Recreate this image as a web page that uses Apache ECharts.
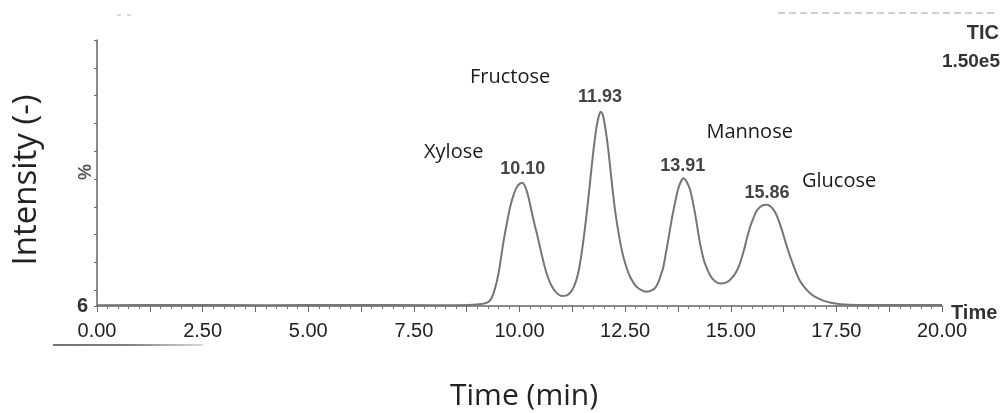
<!DOCTYPE html>
<html>
<head>
<meta charset="utf-8">
<script src="https://cdn.jsdelivr.net/npm/echarts@6/dist/echarts.min.js"></script>
<style>
html,body{margin:0;padding:0;background:#fff;}
#chart{width:1003px;height:413px;}
</style>
</head>
<body>
<div id="chart"></div>
<script>
// Retention time (min)
const times = [0, 2, 4, 6, 8, 8.8, 9.0, 9.18, 9.3, 9.4, 9.5, 9.62, 9.7, 9.78, 9.86,
  9.93, 10.0, 10.07, 10.14, 10.21, 10.33, 10.41, 10.49, 10.57, 10.64,
  10.72, 10.8, 10.9, 11.0, 11.1, 11.2, 11.28, 11.35, 11.41, 11.47,
  11.53, 11.59, 11.67, 11.75, 11.82, 11.87, 11.92, 11.97, 12.03, 12.10,
  12.17, 12.24, 12.30, 12.38, 12.46, 12.54, 12.62, 12.70, 12.77, 12.88,
  13.0, 13.1, 13.2, 13.28, 13.34, 13.40, 13.46, 13.52, 13.60, 13.68,
  13.75, 13.82, 13.88, 13.95, 14.04, 14.15, 14.27, 14.33, 14.39, 14.51,
  14.62, 14.75, 14.87, 14.98, 15.08, 15.18, 15.30, 15.38, 15.46, 15.54,
  15.61, 15.70, 15.78, 15.86, 15.95, 16.05, 16.13, 16.21, 16.30, 16.40,
  16.48, 16.56, 16.64, 16.75, 16.88, 17.0, 17.19, 17.4, 17.6, 17.8,
  18.2, 19.0, 20.0];
// Relative intensity (%)
const intensity = [0.3, 0.4, 0.3, 0.4, 0.3, 0.4, 0.6, 1.0, 2.0, 5.5, 12, 24, 31, 37.3, 41.8,
  44.5, 45.9, 46.2, 44.7, 41.1, 32.4, 27.3, 21.8, 16.4, 12.3,
  8.9, 6.5, 4.6, 3.8, 3.9, 5.0, 7.0, 10.0, 14.0, 19.8,
  26.8, 34.7, 46.6, 58.5, 67.0, 71.0, 73.0, 72.0, 67.0, 59.0,
  48.6, 38.7, 31.8, 24.3, 18.4, 14.1, 10.9, 8.7, 7.2, 6.0,
  5.4, 5.7, 6.6, 8.7, 11.4, 14.4, 19.4, 24.8, 32.3, 38.7,
  43.7, 46.8, 48.0, 46.9, 43.6, 35.2, 23.8, 19.4, 15.9, 11.6,
  9.4, 8.5, 8.7, 9.8, 11.6, 14.4, 20.3, 25.3, 29.8, 33.2,
  35.7, 37.3, 38.0, 38.1, 37.3, 35.2, 32.3, 28.6, 23.8, 18.9,
  15.4, 12.1, 9.4, 6.9, 4.8, 3.4, 2.0, 1.1, 0.7, 0.5,
  0.4, 0.4, 0.4];
// Peaks
const compounds = ['Xylose', 'Fructose', 'Mannose', 'Glucose'];
const peakTimes = [10.10, 11.93, 13.91, 15.86];
const peakHeights = [46.2, 73.0, 48.0, 38.1];
const peakLabels = ['10.10', '11.93', '13.91', '15.86'];
// Axis text
const xTickLabels = ['0.00', '2.50', '5.00', '7.50', '10.00', '12.50', '15.00', '17.50', '20.00'];
const yBaseLabel = '6';

const ARIAL = "'Liberation Sans',Arial,sans-serif";
const SANS = "'Open Sans','Noto Sans',sans-serif";

const rtOffsets = [[-1, -14], [-1, -15], [-2, -12], [0, -12]];
const nameOffsets = [[-70, -31], [-91, -35], [65, -46], [72, -23]];

const markData = [];
peakTimes.forEach((t, i) => {
  markData.push({
    coord: [t, peakHeights[i]], value: peakLabels[i],
    label: { offset: rtOffsets[i], formatter: peakLabels[i],
      fontFamily: ARIAL, fontSize: 18, fontWeight: 'bold', color: '#444' }
  });
  markData.push({
    coord: [t, peakHeights[i]], value: compounds[i],
    label: { offset: nameOffsets[i], formatter: compounds[i],
      fontFamily: SANS, fontSize: 20, color: '#1a1a1a' }
  });
});

const chart = echarts.init(document.getElementById('chart'), null, { renderer: 'canvas' });
chart.setOption({
  animation: false,
  backgroundColor: '#ffffff',
  grid: { left: 97, right: 61, top: 40, bottom: 107, containLabel: false },
  xAxis: {
    type: 'value', min: 0, max: 20, interval: 1.25,
    axisLine: { show: true, lineStyle: { color: '#666', width: 1.5 } },
    axisTick: { show: true, length: 6, lineStyle: { color: '#6a6a6a', width: 1 } },
    minorTick: { show: true, splitNumber: 5, length: 3, lineStyle: { color: '#777', width: 1 } },
    splitLine: { show: false }, minorSplitLine: { show: false },
    axisLabel: {
      margin: 15, fontFamily: ARIAL, fontSize: 20, color: '#222',
      showMinLabel: true, showMaxLabel: true,
      formatter: function (v) {
        const k = Math.round(v / 2.5);
        if (Math.abs(v - k * 2.5) < 1e-6 && xTickLabels[k] !== undefined) return xTickLabels[k];
        return '';
      }
    }
  },
  yAxis: [
    {
      type: 'value', min: 0, max: 100, interval: 100, position: 'left',
      axisLine: { show: true, lineStyle: { color: '#666', width: 1.5 } },
      axisTick: { show: false },
      splitLine: { show: false },
      axisLabel: { margin: 9, fontFamily: ARIAL, fontSize: 20, fontWeight: 'bold', color: '#333',
        formatter: function (v) { return v === 0 ? yBaseLabel : ''; } }
    },
    {
      type: 'value', inverse: true, min: 0, max: 95.7, interval: 10, position: 'left',
      axisLine: { show: false },
      axisTick: { show: true, length: 3, lineStyle: { color: '#6a6a6a', width: 1 } },
      axisLabel: { show: false },
      splitLine: { show: false }
    }
  ],
  series: [{
    type: 'line', xAxisIndex: 0, yAxisIndex: 0,
    data: times.map((t, i) => [t, intensity[i]]),
    symbol: 'none', smooth: 0.3,
    lineStyle: { color: '#757575', width: 2 },
    markPoint: {
      symbol: 'circle', symbolSize: 1,
      itemStyle: { color: 'rgba(0,0,0,0)' },
      label: { show: true, position: 'inside' },
      data: markData
    }
  }],
  graphic: [
    { type: 'text', x: 27, y: 180, rotation: Math.PI / 2,
      style: { text: 'Intensity (-)', fontFamily: SANS, fontSize: 33, fill: '#222', align: 'center', verticalAlign: 'middle' } },
    { type: 'text', x: 86, y: 172, rotation: Math.PI / 2,
      style: { text: '%', fontFamily: ARIAL, fontSize: 18, fontWeight: 'bold', fill: '#555', align: 'center', verticalAlign: 'middle' } },
    { type: 'text', x: 524, y: 396,
      style: { text: 'Time (min)', fontFamily: SANS, fontSize: 30, fill: '#222', align: 'center', verticalAlign: 'middle' } },
    { type: 'text', x: 951, y: 313,
      style: { text: 'Time', fontFamily: ARIAL, fontSize: 20, fontWeight: 'bold', fill: '#333', align: 'left', verticalAlign: 'middle' } },
    { type: 'text', x: 999, y: 33,
      style: { text: 'TIC', fontFamily: ARIAL, fontSize: 20, fontWeight: 'bold', fill: '#333', align: 'right', verticalAlign: 'middle' } },
    { type: 'text', x: 1000, y: 62,
      style: { text: '1.50e5', fontFamily: ARIAL, fontSize: 19, fontWeight: 'bold', fill: '#333', align: 'right', verticalAlign: 'middle' } },
    { type: 'line', shape: { x1: 53, y1: 345, x2: 203, y2: 345 },
      style: { lineWidth: 1.5, stroke: { type: 'linear', global: true, x: 53, y: 0, x2: 203, y2: 0,
        colorStops: [{ offset: 0, color: '#444' }, { offset: 0.5, color: '#555' }, { offset: 1, color: '#ccc' }] } } },
    { type: 'line', shape: { x1: 778, y1: 13, x2: 996, y2: 13 },
      style: { lineWidth: 2, stroke: '#cfcfcf', lineDash: [7, 4] } },
    { type: 'line', shape: { x1: 117, y1: 15, x2: 132, y2: 15 },
      style: { lineWidth: 1.5, stroke: '#d0d0d0', lineDash: [4, 6] } }
  ]
});
</script>
</body>
</html>
